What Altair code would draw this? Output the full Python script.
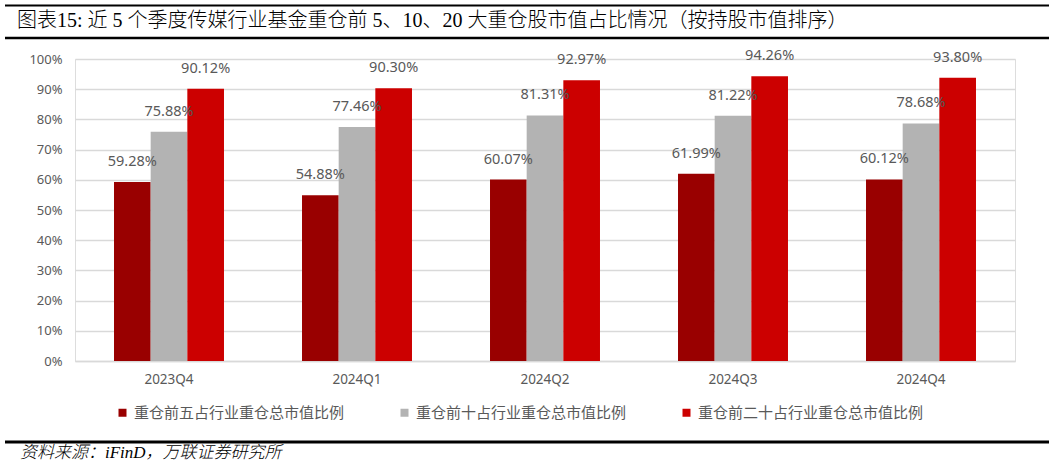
import altair as alt
import pandas as pd

quarters = ["2023Q4", "2024Q1", "2024Q2", "2024Q3", "2024Q4"]
series = ["重仓前五占行业重仓总市值比例", "重仓前十占行业重仓总市值比例", "重仓前二十占行业重仓总市值比例"]
top5 = [0.5928, 0.5488, 0.6007, 0.6199, 0.6012]
top10 = [0.7588, 0.7746, 0.8131, 0.8122, 0.7868]
top20 = [0.9012, 0.9030, 0.9297, 0.9426, 0.9380]
colors = ["#990000", "#B3B3B3", "#CC0000"]

title_text = "图表15: 近 5 个季度传媒行业基金重仓前 5、10、20 大重仓股市值占比情况（按持股市值排序）"
source_text = "资料来源：iFinD，万联证券研究所"

rows = []
for s, vals in zip(series, [top5, top10, top20]):
    for q, v in zip(quarters, vals):
        rows.append({"quarter": q, "series": s, "value": v})
df = pd.DataFrame(rows)

FONT = "Noto Sans CJK SC"
SANS = "Noto Sans"
SERIF = "Liberation Serif, Noto Sans CJK SC"

x = alt.X("quarter:N", sort=quarters, title=None,
          scale=alt.Scale(paddingInner=0.415, paddingOuter=0.2075),
          axis=alt.Axis(labelAngle=0, labelFontSize=13.5, labelColor="#595959", labelFont=SANS,
                        labelPadding=11, ticks=False, domainColor="#D9D9D9", domainWidth=1.5))
xo = alt.XOffset("series:N", sort=series, scale=alt.Scale(padding=0, paddingInner=0, paddingOuter=0))
y = alt.Y("value:Q", title=None,
          scale=alt.Scale(domain=[0, 1]),
          axis=alt.Axis(values=[i / 10 for i in range(11)], format=".0%", labelFontSize=13,
                        labelColor="#595959", labelFont=SANS, labelPadding=13,
                        ticks=False, domain=False, gridColor="#D9D9D9", gridWidth=1.5))

base = alt.Chart(df)
bars = base.mark_bar().encode(
    x=x, xOffset=xo, y=y,
    color=alt.Color("series:N", sort=series, scale=alt.Scale(domain=series, range=colors),
                    legend=alt.Legend(title=None, orient="none", direction="horizontal",
                                      legendX=40, legendY=346, symbolType="square",
                                      symbolSize=64, symbolStrokeWidth=0, labelFontSize=15,
                                      labelColor="#595959", labelFont=FONT, labelOffset=4,
                                      columnPadding=52, labelLimit=400)),
)
labels = base.mark_text(dy=-20, fontSize=14.5, color="#595959", font=SANS,
                        baseline="middle").encode(
    x=x, xOffset=xo, y=y, text=alt.Text("value:Q", format=".2%")
)

one = alt.Chart(pd.DataFrame({"a": [0]}))
line1 = one.mark_rule(color="black", strokeWidth=2).encode(
    x=alt.value(-70), x2=alt.value(974), y=alt.value(-53.5))
line2 = one.mark_rule(color="black", strokeWidth=2.5).encode(
    x=alt.value(-70), x2=alt.value(974), y=alt.value(-21))
line3 = one.mark_rule(color="black", strokeWidth=3).encode(
    x=alt.value(-70), x2=alt.value(974), y=alt.value(383))
title = one.mark_text(text=title_text, align="left", baseline="middle", fontSize=20,
                      fontWeight=300, font=SERIF, color="black").encode(
    x=alt.value(-58), y=alt.value(-38))
source = one.mark_text(text=source_text, align="left", baseline="middle", fontSize=17,
                       fontWeight=300, font=SERIF, fontStyle="italic", color="black").encode(
    x=alt.value(-55), y=alt.value(394))

chart = alt.layer(bars, labels, line1, line2, line3, title, source).properties(
    width=940, height=302,
    autosize=alt.AutoSizeParams(type="none"),
    padding={"left": 75, "top": 59, "right": 39, "bottom": 108},
).configure_view(stroke=None).configure(background="white")

chart.save("out.html", embed_options={"renderer": "svg", "actions": False})
